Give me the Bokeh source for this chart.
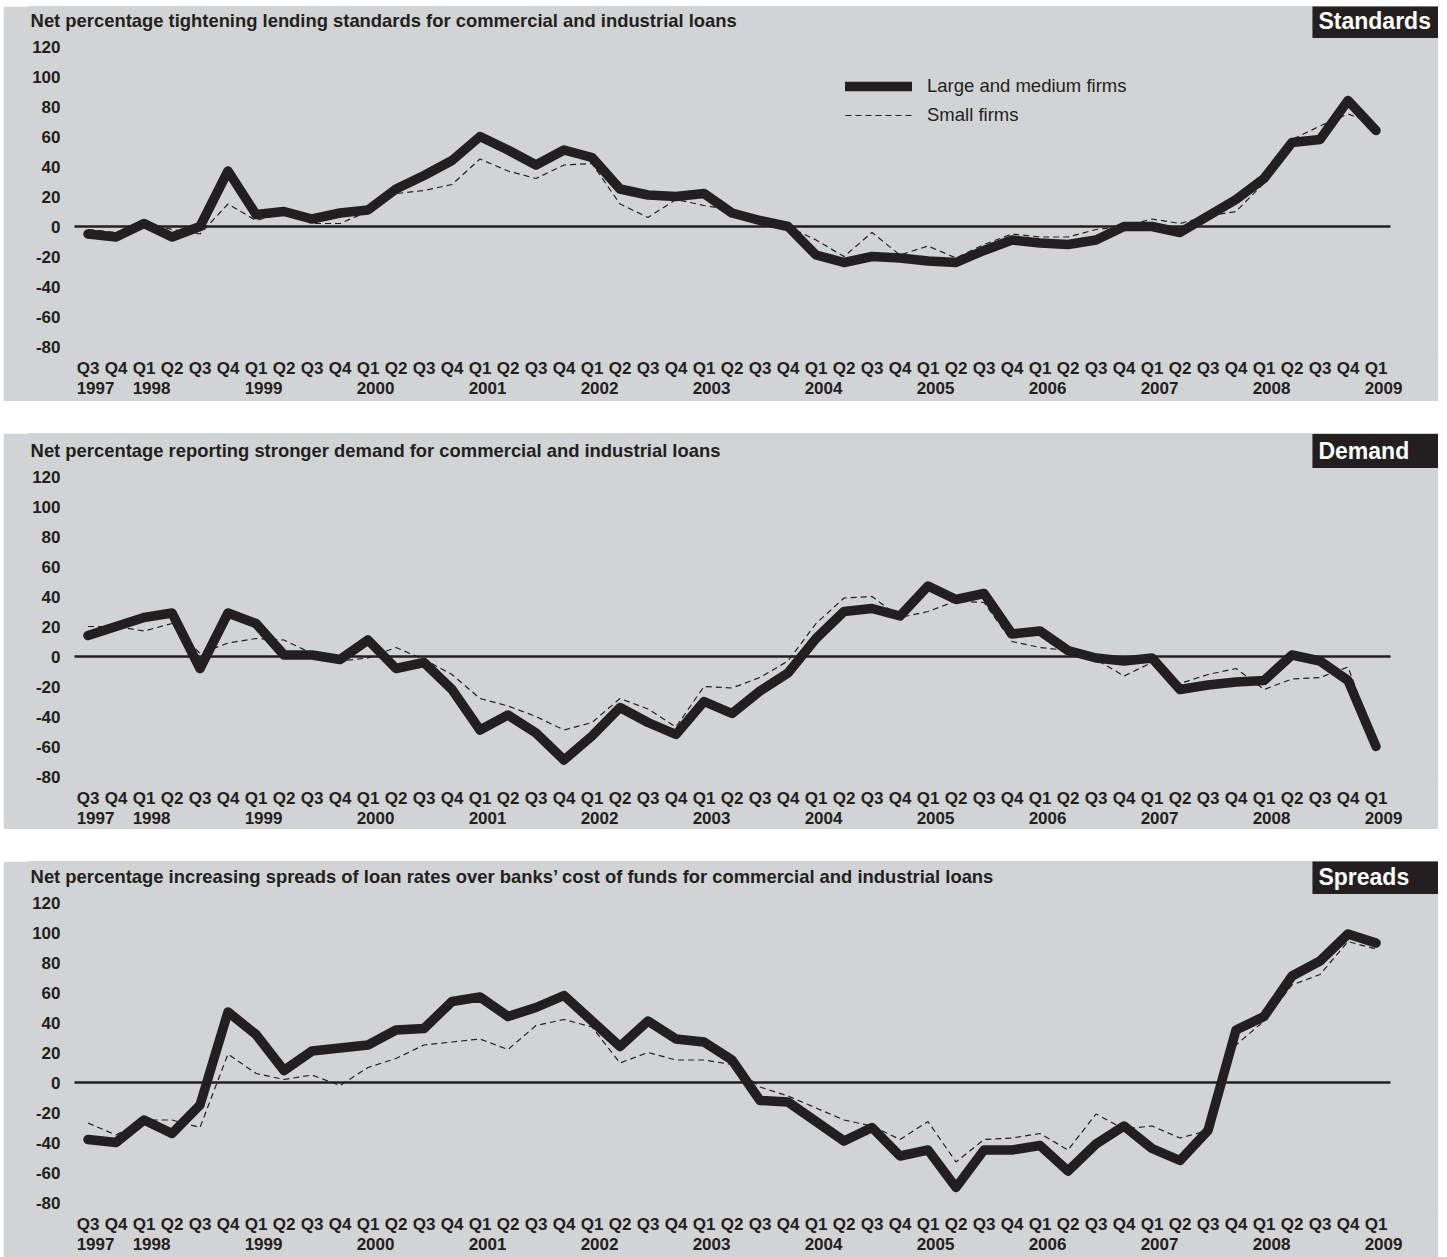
from bokeh.plotting import figure
from bokeh.layouts import column
from bokeh.models import (Label, Legend, LegendItem, LinearAxis,
                          FixedTicker, Range1d)
from bokeh.embed import file_html
from bokeh.resources import INLINE

# ---------------- data ----------------
quarters = ["Q3", "Q4"] + ["Q1", "Q2", "Q3", "Q4"] * 11 + ["Q1"]
years = [1997, 1998, 1999, 2000, 2001, 2002, 2003, 2004, 2005, 2006, 2007, 2008, 2009]
year_index = [0, 2, 6, 10, 14, 18, 22, 26, 30, 34, 38, 42, 46]

standards_large = [-5, -7, 2, -7, 0, 37, 8, 10, 5, 9, 11, 25, 34, 44, 60, 51, 41, 51, 46,
                   25, 21, 20, 22, 9, 4, 0, -19, -24, -20, -21, -23, -24, -16, -9, -11,
                   -12, -9, 0, 0, -4, 7, 18, 32, 56, 58, 84, 64]
standards_small = [-2, -4, 2, -2, -5, 15, 4, 9, 2, 2, 10, 22, 24, 28, 45, 37, 32, 41, 42,
                   15, 6, 18, 14, 11, 3, 0, -9, -20, -4, -19, -13, -21, -12, -5, -7,
                   -7, -2, 0, 5, 2, 7, 10, 29, 58, 67, 75, 68]

demand_large = [14, 20, 26, 29, -8, 29, 22, 1, 1, -2, 11, -8, -4, -22, -49, -39, -51, -69,
                -53, -34, -44, -52, -30, -38, -23, -11, 12, 30, 32, 27, 47, 38, 42, 15, 17,
                4, -1, -3, -1, -22, -19, -17, -16, 1, -3, -16, -60]
demand_small = [20, 20, 17, 22, 2, 9, 12, 11, 2, -3, -1, 6, -2, -12, -28, -33, -40, -49,
                -44, -28, -35, -47, -20, -21, -14, -3, 22, 39, 40, 26, 30, 37, 36, 10, 6,
                4, -2, -13, -4, -18, -12, -8, -22, -15, -14, -7, -58]

spreads_large = [-38, -40, -25, -34, -15, 47, 32, 8, 21, 23, 25, 35, 36, 54, 57, 44, 50, 58,
                 41, 24, 41, 29, 27, 15, -12, -13, -26, -39, -30, -49, -45, -70, -45, -45,
                 -42, -59, -41, -29, -44, -52, -32, 35, 44, 71, 81, 99, 93]
spreads_small = [-27, -35, -25, -25, -30, 19, 6, 2, 5, -2, 10, 16, 25, 27, 29, 22, 38, 42,
                 37, 13, 20, 15, 15, 12, -3, -9, -17, -25, -29, -38, -26, -53, -38, -37,
                 -34, -45, -21, -31, -29, -37, -32, 25, 41, 65, 72, 94, 89]

y_ticks = [-80, -60, -40, -20, 0, 20, 40, 60, 80, 100, 120]
y_labels = ["-80", "-60", "-40", "-20", "0", "20", "40", "60", "80", "100", "120"]

titles = [
    "Net percentage tightening lending standards for commercial and industrial loans",
    "Net percentage reporting stronger demand for commercial and industrial loans",
    "Net percentage increasing spreads of loan rates over banks\u2019 cost of funds for commercial and industrial loans",
]
tags = ["Standards", "Demand", "Spreads"]
series_names = ["Large and medium firms", "Small firms"]

# ---------------- style / geometry ----------------
BG = "#d2d3d5"
INK = "#231f20"
FONT = "Liberation Sans"

X_LO, X_HI = -2.125, 48.232        # visible x extent (quarter index units)
ZERO_LO, ZERO_HI = -0.482, 46.518  # extent of the zero reference line
Y_LO = -84
PX_PER_UNIT = 1.5

x = list(range(len(quarters)))


def make_panel(title, tag, large, small, height, bottom, legend=False):
    frame_h = height - bottom
    p = figure(width=1435, height=height,
               x_range=Range1d(X_LO, X_HI),
               y_range=Range1d(Y_LO, Y_LO + frame_h / PX_PER_UNIT),
               output_backend="svg", toolbar_location=None,
               background_fill_color=BG, border_fill_color=BG,
               outline_line_color=BG, outline_line_width=2,
               x_axis_location=None,
               min_border_left=25, min_border_right=0,
               min_border_top=0, min_border_bottom=bottom)
    p.grid.visible = False

    yax = p.yaxis[0]
    yax.ticker = FixedTicker(ticks=y_ticks)
    yax.major_label_overrides = dict(zip(y_ticks, y_labels))
    yax.axis_line_color = None
    yax.major_tick_line_color = None
    yax.minor_tick_line_color = None
    yax.major_tick_out = 0
    yax.major_tick_in = 0
    yax.major_label_standoff = -32
    yax.major_label_text_font = FONT
    yax.major_label_text_font_style = "bold"
    yax.major_label_text_font_size = "17px"
    yax.major_label_text_color = INK

    def xaxis(ticks, labels, standoff):
        ax = LinearAxis(ticker=FixedTicker(ticks=ticks),
                        major_label_overrides=dict(zip(ticks, labels)))
        ax.axis_line_color = None
        ax.major_tick_line_color = None
        ax.minor_tick_line_color = None
        ax.major_tick_out = 0
        ax.major_tick_in = 0
        ax.major_label_standoff = standoff
        ax.major_label_text_font = FONT
        ax.major_label_text_font_style = "bold"
        ax.major_label_text_font_size = "17px"
        ax.major_label_text_color = INK
        return ax

    p.add_layout(xaxis([float(i) for i in x], quarters, 6), "below")
    p.add_layout(xaxis([i + 0.27 for i in year_index], [str(y) for y in years], 1), "below")

    # zero reference line
    p.segment(x0=[ZERO_LO], x1=[ZERO_HI], y0=[0], y1=[0], line_color=INK, line_width=2.5)

    r_small = p.line(x, small, line_color=INK, line_width=1.2, line_dash="6 4")
    r_large = p.line(x, large, line_color=INK, line_width=9.5,
                     line_join="round", line_cap="round")

    p.add_layout(Label(x=-2.05, y=137.5, text=title, text_font=FONT,
                       text_font_style="bold", text_font_size="18.4px",
                       text_baseline="middle", text_color=INK))
    p.add_layout(Label(x=43.73, y=137, text=tag, text_font=FONT,
                       text_font_style="bold", text_font_size="23px",
                       text_baseline="middle", text_color="white",
                       background_fill_color=INK,
                       padding=dict(left=6, right=60, top=4, bottom=4)))

    if legend:
        lg = Legend(items=[LegendItem(label=series_names[0], renderers=[r_large]),
                           LegendItem(label=series_names[1], renderers=[r_small])],
                    location=(817, 226), orientation="vertical",
                    padding=0, margin=0, spacing=7,
                    glyph_width=67, glyph_height=20, label_standoff=15,
                    label_text_font=FONT, label_text_font_size="18.5px",
                    label_text_color=INK, background_fill_alpha=0,
                    border_line_color=None)
        p.add_layout(lg)
    return p


p1 = make_panel(titles[0], tags[0], standards_large, standards_small, 395, 49, legend=True)
p2 = make_panel(titles[1], tags[1], demand_large, demand_small, 396, 47)
p3 = make_panel(titles[2], tags[2], spreads_large, spreads_small, 396, 49)

layout = column(p1, p2, p3, spacing=32)
layout.margin = (6, 0, 0, 3)

open("out.html", "w").write(file_html(layout, INLINE))
